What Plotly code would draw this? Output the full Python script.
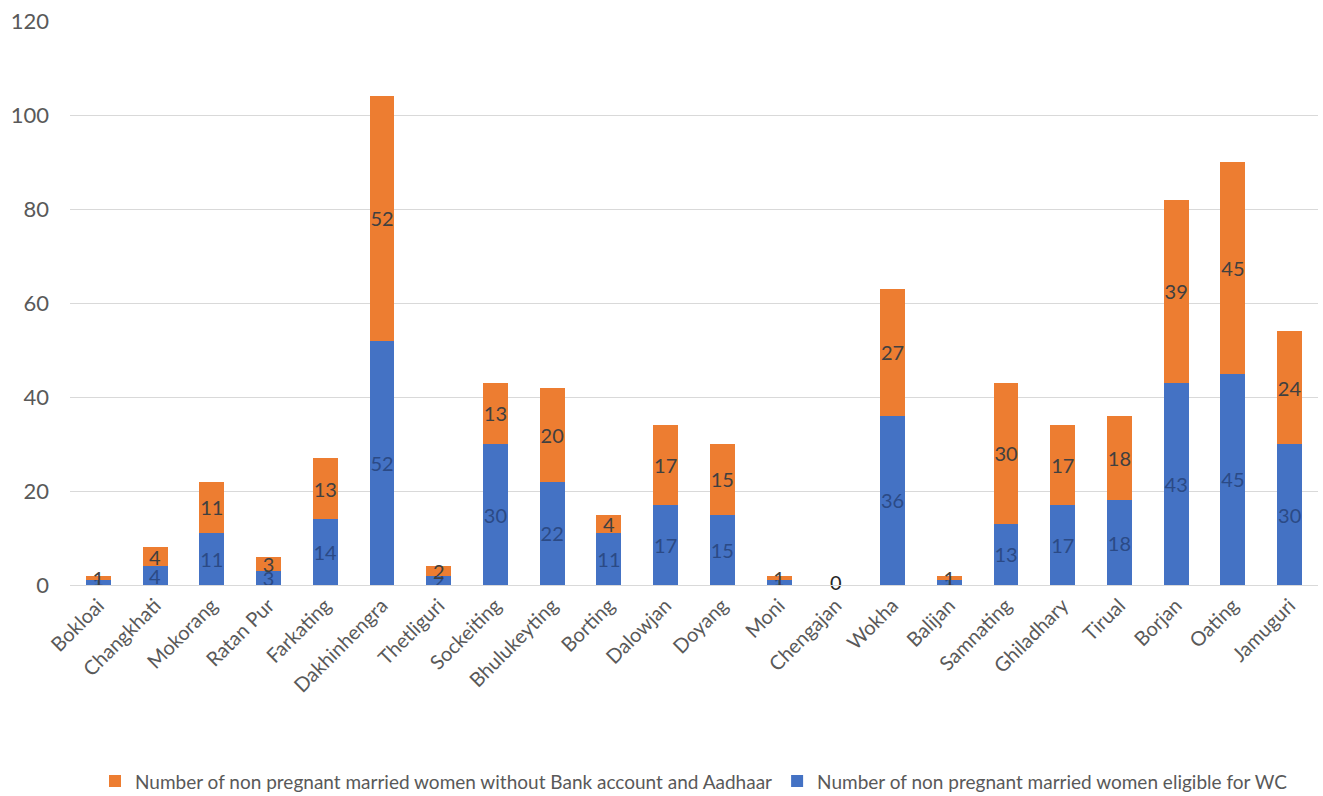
import plotly.graph_objects as go

categories = ["Bokloai", "Changkhati", "Mokorang", "Ratan Pur", "Farkating", "Dakhinhengra",
              "Thetliguri", "Sockeiting", "Bhulukeyting", "Borting", "Dalowjan", "Doyang",
              "Moni", "Chengajan", "Wokha", "Balijan", "Samnating", "Ghiladhary", "Tirual",
              "Borjan", "Oating", "Jamuguri"]
eligible_wc = [1, 4, 11, 3, 14, 52, 2, 30, 22, 11, 17, 15, 1, 0, 36, 1, 13, 17, 18, 43, 45, 30]
without_bank = [1, 4, 11, 3, 13, 52, 2, 13, 20, 4, 17, 15, 1, 0, 27, 1, 30, 17, 18, 39, 45, 24]
y_ticks = [0, 20, 40, 60, 80, 100, 120]

FONT = "Lato, 'Open Sans', sans-serif"

fig = go.Figure()
fig.add_trace(go.Bar(
    x=categories, y=eligible_wc,
    name="Number of non pregnant married women eligible for WC",
    marker=dict(color="#4472C4", line=dict(width=0)),
    text=[str(v) for v in eligible_wc], textposition="inside",
    insidetextanchor="middle", constraintext="none", textangle=0,
    textfont=dict(color="#2B4A86", size=20, family=FONT),
    legendrank=2,
))
fig.add_trace(go.Bar(
    x=categories, y=without_bank,
    name="Number of non pregnant married women without Bank account and Aadhaar",
    marker=dict(color="#ED7D31", line=dict(width=0)),
    text=[str(v) for v in without_bank], textposition="inside",
    insidetextanchor="middle", constraintext="none", textangle=0,
    textfont=dict(color="#404040", size=20, family=FONT),
    legendrank=1,
))

# labels for categories whose bars have zero height (not drawn by the bar traces)
zero_x = [c for c, a, b in zip(categories, eligible_wc, without_bank) if a + b == 0]
zero_y = [a + b for a, b in zip(eligible_wc, without_bank) if a + b == 0]
fig.add_trace(go.Scatter(
    x=zero_x, y=zero_y, mode="text", text=[str(v) for v in zero_y],
    textposition="middle center", textfont=dict(color="#262626", size=20, family=FONT),
    showlegend=False, hoverinfo="skip", cliponaxis=False,
))

fig.update_layout(
    barmode="stack",
    bargap=0.56,
    width=1323, height=796,
    margin=dict(l=70, r=5, t=21, b=211, autoexpand=False),
    plot_bgcolor="white", paper_bgcolor="white",
    font=dict(family=FONT, color="#595959"),
    showlegend=True,
    legend=dict(orientation="h", x=0.5, xanchor="center", y=-0.348, yanchor="middle",
                font=dict(size=19, color="#595959", family=FONT),
                traceorder="normal", itemwidth=30),
    xaxis=dict(tickangle=-45, tickfont=dict(size=20, color="#595959", family=FONT),
               showgrid=False, showline=True, linecolor="#D9D9D9", ticks="", automargin=False),
    yaxis=dict(range=[0, 120], tickvals=y_ticks, tickfont=dict(size=22, color="#595959", family=FONT),
               showgrid=True, gridcolor="#D9D9D9", gridwidth=1, zeroline=False, ticks="",
               ticklabelstandoff=20, automargin=False),
)

fig.write_html("out.html")
